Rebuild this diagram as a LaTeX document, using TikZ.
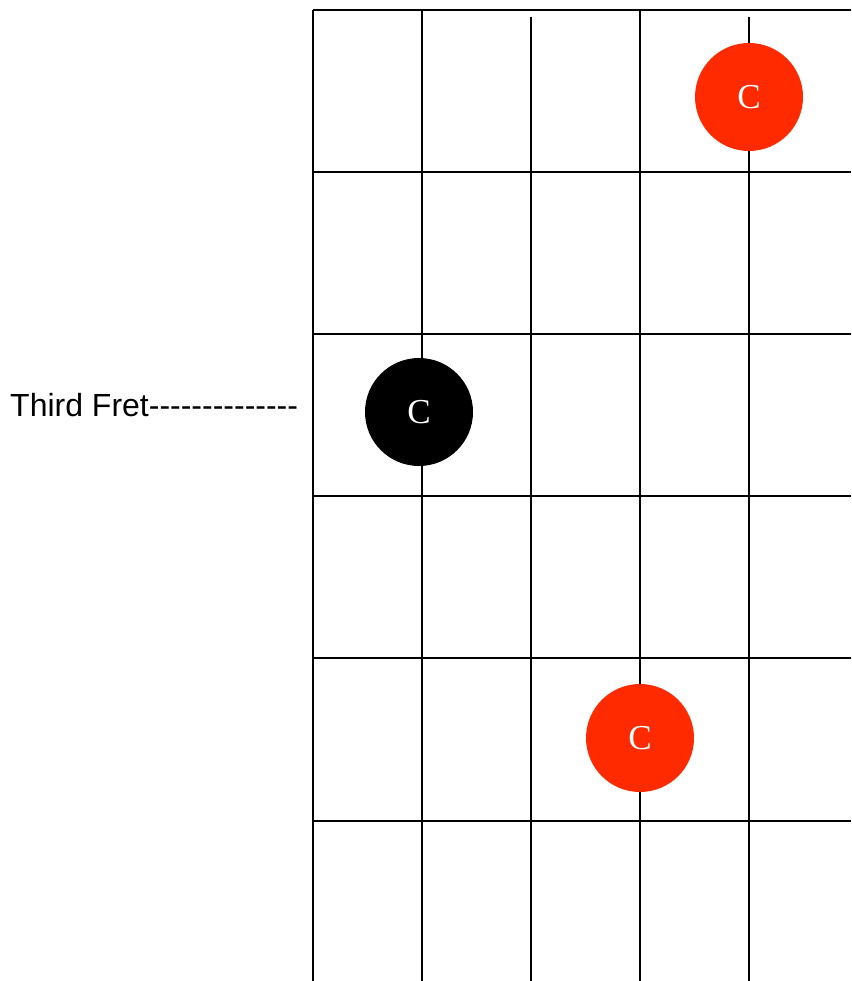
\documentclass[tikz,border=0pt]{standalone}
\usepackage{fontspec}
\setmainfont{Liberation Serif}
\newfontfamily\fretfont{Liberation Sans}
\usetikzlibrary{positioning}
\definecolor{notered}{HTML}{FF2A00}
\definecolor{fretline}{HTML}{000000}
\tikzset{
  fret/.style={draw=fretline, line width=1.6pt},
  note/.style={
    circle, minimum size=108pt, inner sep=0pt,
    text=white, font=\fontsize{35}{35}\selectfont
  },
  fretlabel/.style={anchor=west, inner sep=0pt, font=\fretfont\fontsize{32}{32}\selectfont}
}

\begin{document}
\begin{tikzpicture}[x=1pt, y=-1pt]
        \useasboundingbox (0,0) rectangle (851,981);
        \foreach \y in {10,172,334,496,658,821}
          \draw[fret] (313,\y) -- (851,\y);
        \foreach \x in {313,422,640}
          \draw[fret] (\x,10) -- (\x,981);
        \foreach \x in {531,749}
          \draw[fret] (\x,17) -- (\x,981);
        \node[note, fill=notered] (top) at (749,97) {C};
        \node[note, fill=black] (third) at (419,412) {C};
        \node[note, fill=notered] (low) at (640,738) {C};
        \node[fretlabel] (label) at (10,405) {Third Fret-\kern0pt-\kern0pt-\kern0pt-\kern0pt-\kern0pt-\kern0pt-\kern0pt-\kern0pt-\kern0pt-\kern0pt-\kern0pt-\kern0pt-\kern0pt-};
      \end{tikzpicture}
\end{document}
